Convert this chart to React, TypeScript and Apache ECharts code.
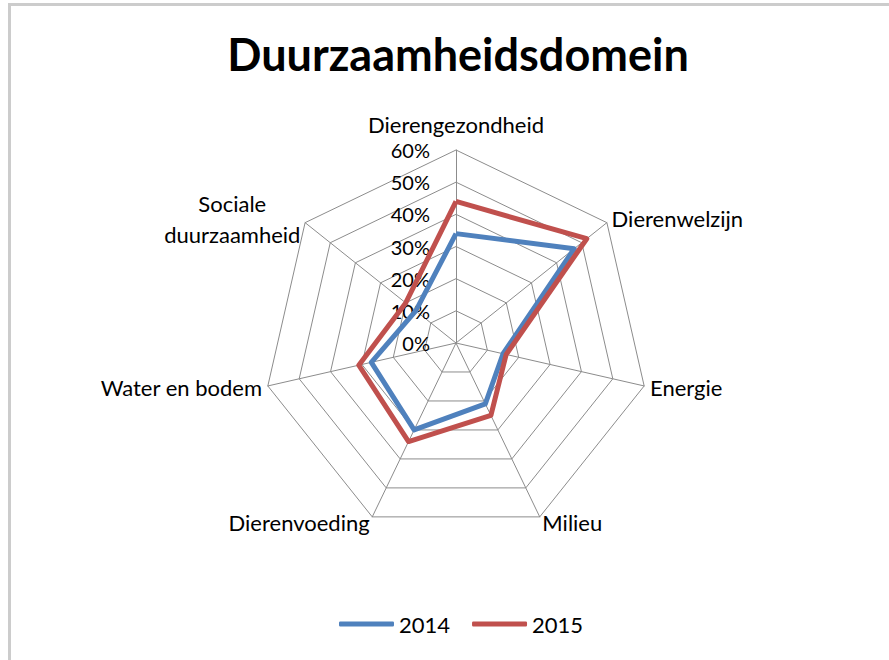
import React, { useEffect, useRef } from "react";
import * as echarts from "echarts";

const chartTitle = "Duurzaamheidsdomein";
const categories = [
  "Dierengezondheid",
  "Dierenwelzijn",
  "Energie",
  "Milieu",
  "Dierenvoeding",
  "Water en bodem",
  "Sociale\nduurzaamheid",
];
const seriesNames = ["2014", "2015"];
const values2014 = [34, 47, 15, 21, 30, 27, 16];
const values2015 = [44, 52, 16, 25, 34, 31, 20];
const axisMin = 0;
const axisMax = 60;
const tickStep = 10;

const seriesColors = ["#4F81BD", "#C0504D"];

// ECharts places indicators counter-clockwise; reorder so they run clockwise like the original
const order = [0, 6, 5, 4, 3, 2, 1];

export default function App() {
  const ref = useRef<HTMLDivElement>(null);
  useEffect(() => {
    if (!ref.current) return;
    const chart = echarts.init(ref.current, null, { renderer: "svg" });
    const font = "Lato";
    const indicator = order.map((i, k) => ({
      name: categories[i],
      min: axisMin,
      max: axisMax,
      nameGap: k === 0 ? 9 : 6,
      axisLabel:
        k === 0
          ? {
              show: true,
              formatter: "{value}%",
              color: "#000",
              fontFamily: font,
              fontSize: 20,
              margin: 26,
            }
          : { show: false },
    }));
    chart.setOption({
      animation: false,
      backgroundColor: "#fff",
      title: {
        text: chartTitle,
        left: 453,
        top: 26,
        textAlign: "center",
        textStyle: {
          fontFamily: font,
          fontWeight: "bold",
          fontSize: 45,
          color: "#000",
        },
      },
      legend: {
        data: seriesNames,
        left: 334,
        top: 608,
        itemWidth: 55,
        itemHeight: 5,
        itemGap: 22,
        icon: "roundRect",
        textStyle: { fontFamily: font, fontSize: 22, color: "#000" },
      },
      graphic: [
        { type: "rect", shape: { x: 8, y: 3, width: 3, height: 660 }, style: { fill: "#cccccc" } },
        { type: "rect", shape: { x: 8, y: 3, width: 889, height: 3 }, style: { fill: "#cccccc" } },
      ],
      radar: {
        center: [456, 343],
        radius: 193,
        shape: "polygon",
        startAngle: 90,
        splitNumber: (axisMax - axisMin) / tickStep,
        indicator,
        axisName: {
          color: "#000",
          fontFamily: font,
          fontSize: 22,
          lineHeight: 31,
          formatter: (name: string) =>
            name.indexOf("\n") >= 0
              ? name
                  .split("\n")
                  .map((l) => "{c|" + l + "}")
                  .join("\n")
              : name,
          rich: {
            c: {
              align: "center",
              color: "#000",
              fontFamily: font,
              fontSize: 22,
              lineHeight: 31,
            },
          },
        },
        axisLine: { lineStyle: { color: "#8c8c8c", width: 1 } },
        splitLine: { lineStyle: { color: "#8c8c8c", width: 1 } },
        splitArea: { show: false },
        axisTick: { show: false },
      },
      series: [
        {
          type: "radar",
          symbol: "none",
          data: [
            {
              name: seriesNames[0],
              value: order.map((i) => values2014[i]),
              lineStyle: { color: seriesColors[0], width: 5 },
              itemStyle: { color: seriesColors[0] },
            },
            {
              name: seriesNames[1],
              value: order.map((i) => values2015[i]),
              lineStyle: { color: seriesColors[1], width: 5 },
              itemStyle: { color: seriesColors[1] },
            },
          ],
        },
      ],
    });
    return () => chart.dispose();
  }, []);
  return (
    <div
      ref={ref}
      style={{ position: "fixed", left: 0, top: 0, width: 889, height: 660 }}
    />
  );
}
